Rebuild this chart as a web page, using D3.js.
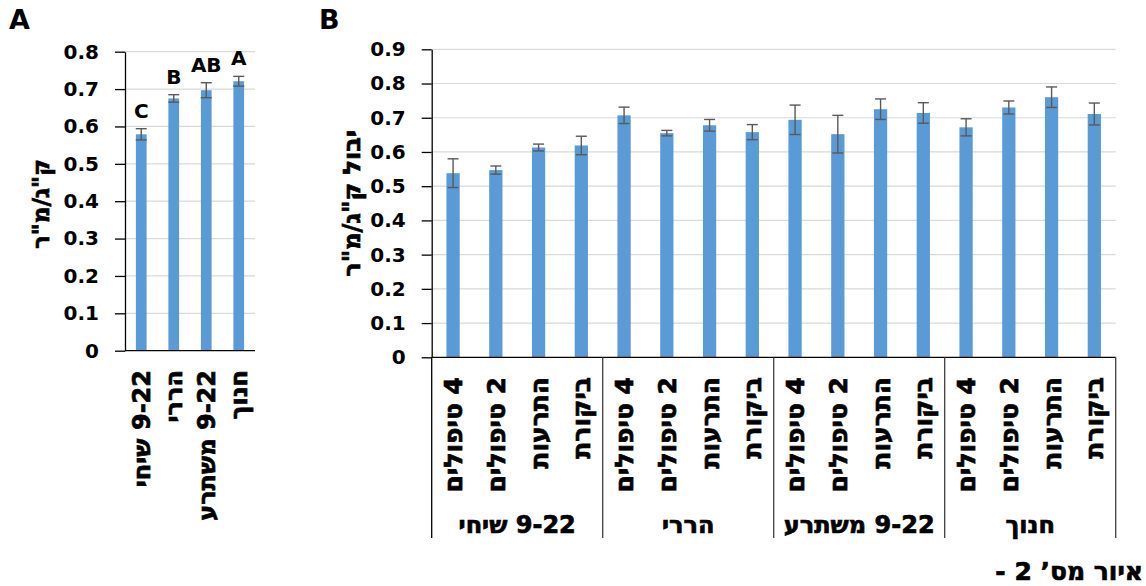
<!DOCTYPE html>
<html>
<head>
<meta charset="utf-8">
<script src="https://cdnjs.cloudflare.com/ajax/libs/d3/7.8.5/d3.min.js"></script>
<style>
    body { margin: 0; background: #fff; }
    .num { font-family: 'DejaVu Sans', sans-serif; font-weight: bold; fill: #000; }
    .heb { font-family: 'DejaVu Sans', sans-serif; font-weight: bold; fill: #000; stroke: #000; stroke-width: 0.7px; }
</style>
</head>
<body>
<div id="chart-area"></div>
<script>
// panel A - variety means
const varietiesA = ['9-22 שיחי', 'הררי', '9-22 משתרע', 'חנוך'];
const yieldA = [0.579, 0.675, 0.697, 0.721];
const errA = [0.015, 0.010, 0.020, 0.013];
const lettersA = ['C', 'B', 'AB', 'A'];
const ticksA = [0, 0.1, 0.2, 0.3, 0.4, 0.5, 0.6, 0.7, 0.8];

// panel B - variety x treatment
const groupsB = ['9-22 שיחי', 'הררי', '9-22 משתרע', 'חנוך'];
const treatmentsB = ['4 טיפולים', '2 טיפולים', 'התרעות', 'ביקורת'];
const yieldB = [0.538, 0.547, 0.613, 0.619,
                0.707, 0.655, 0.678, 0.658,
                0.694, 0.652, 0.725, 0.714,
                0.672, 0.730, 0.760, 0.711];
const errB = [0.042, 0.012, 0.010, 0.027,
              0.024, 0.008, 0.017, 0.022,
              0.043, 0.055, 0.030, 0.030,
              0.025, 0.019, 0.030, 0.032];
const ticksB = [0, 0.1, 0.2, 0.3, 0.4, 0.5, 0.6, 0.7, 0.8, 0.9];

const BAR_COLOR = '#5b9bd5';
const ERR_COLOR = '#595959';
const GRID_COLOR = '#d9d9d9';

const svg = d3.select('#chart-area').append('svg')
    .attr('width', 1146)
    .attr('height', 586);

const fmt = d => d === 0 ? '0' : d.toFixed(1);

function yAxis(y, ticks, x0, x1) {
    svg.append('g')
        .selectAll('line')
        .data(ticks.filter(t => t > 0))
        .enter().append('line')
        .attr('x1', x0).attr('x2', x1)
        .attr('y1', d => y(d)).attr('y2', d => y(d))
        .attr('stroke', GRID_COLOR)
        .attr('stroke-width', 1.2);

    const g = svg.append('g')
        .attr('transform', `translate(${x0}, 0)`)
        .call(d3.axisLeft(y).tickValues(ticks).tickFormat(fmt).tickSize(10).tickSizeOuter(0).tickPadding(16));
    g.select('.domain').attr('stroke', '#000').attr('stroke-width', 1.3);
    g.selectAll('.tick line').attr('stroke', '#000').attr('stroke-width', 1.3);
    g.selectAll('.tick text')
        .attr('class', 'num')
        .attr('font-size', 20);
}

function rotLabel(x, y, text, size) {
    svg.append('text')
        .attr('class', 'heb')
        .attr('transform', `translate(${x}, ${y}) rotate(-90)`)
        .attr('direction', 'rtl')
        .attr('text-anchor', 'start')
        .attr('dy', '0.36em')
        .attr('font-size', size)
        .text(text);
}

function bars(x, y, names, values, errs, cap) {
    svg.append('g')
        .selectAll('rect')
        .data(values)
        .enter().append('rect')
        .attr('x', (d, i) => x(names[i]))
        .attr('y', d => y(d))
        .attr('width', x.bandwidth())
        .attr('height', d => y(0) - y(d))
        .attr('fill', BAR_COLOR);

    const e = svg.append('g')
        .attr('stroke', ERR_COLOR)
        .attr('stroke-width', 1.4)
        .selectAll('g')
        .data(values)
        .enter().append('g')
        .attr('transform', (d, i) => `translate(${x(names[i]) + x.bandwidth() / 2}, 0)`);
    e.append('line')
        .attr('y1', (d, i) => y(d + errs[i]))
        .attr('y2', (d, i) => y(d - errs[i]));
    e.append('line')
        .attr('x1', -cap).attr('x2', cap)
        .attr('y1', (d, i) => y(d + errs[i]))
        .attr('y2', (d, i) => y(d + errs[i]));
    e.append('line')
        .attr('x1', -cap).attr('x2', cap)
        .attr('y1', (d, i) => y(d - errs[i]))
        .attr('y2', (d, i) => y(d - errs[i]));
}

// ---------- panel A ----------
const xA = d3.scaleBand()
    .domain(varietiesA)
    .range([125, 255])
    .paddingInner(0.67)
    .paddingOuter(0.335);
const yA = d3.scaleLinear()
    .domain([0, 0.8])
    .range([350.7, 51.7]);

yAxis(yA, ticksA, 125, 255);
bars(xA, yA, varietiesA, yieldA, errA, 5.5);

svg.append('line')
    .attr('x1', 125).attr('x2', 255)
    .attr('y1', yA(0)).attr('y2', yA(0))
    .attr('stroke', '#000').attr('stroke-width', 1.3);

svg.append('g')
    .selectAll('text')
    .data(lettersA)
    .enter().append('text')
    .attr('class', 'num')
    .attr('font-size', 20)
    .attr('text-anchor', 'middle')
    .attr('x', (d, i) => xA(varietiesA[i]) + xA.bandwidth() / 2)
    .attr('y', (d, i) => yA(yieldA[i] + errA[i]) - 11)
    .text(d => d);

varietiesA.forEach(v => rotLabel(xA(v) + xA.bandwidth() / 2, 370, v, 24));
rotLabel(41, 159, 'ק"ג/מ"ר', 23);

svg.append('text')
    .attr('class', 'num')
    .attr('font-size', 27)
    .attr('x', 9).attr('y', 29)
    .text('A');

// ---------- panel B ----------
const keysB = groupsB.flatMap(g => treatmentsB.map(t => g + '|' + t));
const xB = d3.scaleBand()
    .domain(keysB)
    .range([431.7, 1115.7])
    .paddingInner(0.69)
    .paddingOuter(0.345);
const yB = d3.scaleLinear()
    .domain([0, 0.9])
    .range([357.3, 49.3]);

yAxis(yB, ticksB, 431.7, 1115.7);
bars(xB, yB, keysB, yieldB, errB, 5.5);

svg.append('line')
    .attr('x1', 431.7).attr('x2', 1115.7)
    .attr('y1', yB(0)).attr('y2', yB(0))
    .attr('stroke', '#000').attr('stroke-width', 1.3);

// group separators below the axis
const step = xB.step();
d3.range(groupsB.length + 1).forEach(i => {
    svg.append('line')
        .attr('x1', 431.7 + i * 4 * step).attr('x2', 431.7 + i * 4 * step)
        .attr('y1', yB(0)).attr('y2', 538)
        .attr('stroke', i === 0 ? '#000' : '#404040')
        .attr('stroke-width', 1.3);
});

keysB.forEach(k => rotLabel(xB(k) + xB.bandwidth() / 2, 377, k.split('|')[1], 25));

svg.append('g')
    .selectAll('text')
    .data(groupsB)
    .enter().append('text')
    .attr('class', 'heb')
    .attr('font-size', 24)
    .attr('direction', 'rtl')
    .attr('text-anchor', 'middle')
    .attr('x', (d, i) => 431.7 + (i * 4 + 2) * step)
    .attr('y', 533)
    .text(d => d);

rotLabel(351, 130, 'יבול ק"ג/מ"ר', 24);

svg.append('text')
    .attr('class', 'num')
    .attr('font-size', 27)
    .attr('x', 319).attr('y', 29)
    .text('B');

// caption
svg.append('text')
    .attr('class', 'heb')
    .attr('font-size', 25)
    .attr('direction', 'rtl')
    .attr('text-anchor', 'start')
    .attr('x', 1143).attr('y', 580)
    .text('איור מס’ 2 -');
</script>
</body>
</html>
